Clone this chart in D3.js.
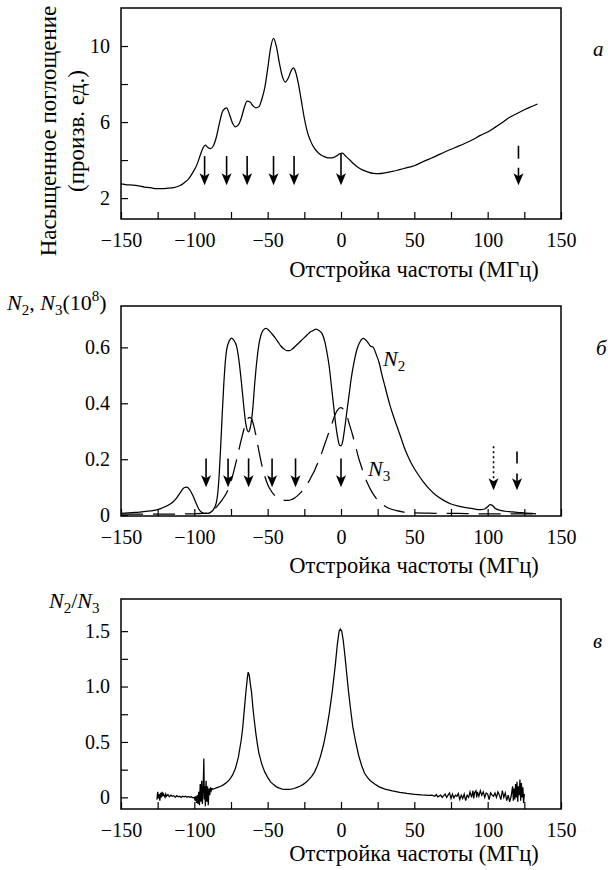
<!DOCTYPE html>
<meta charset="utf-8">
<style>
body { margin: 0; background: #fff; }
svg text { font-family: "Liberation Serif", "Times New Roman", serif; fill: #000; }
.axis text { font-size: 20px; }
.axis path { display: none; }
.axis line { stroke: #000; stroke-width: 1.2px; }
.frame { fill: none; stroke: #000; stroke-width: 1.5px; }
.curve { fill: none; stroke: #000; stroke-width: 1.25px; }
</style>
<body>
<svg width="608" height="870"></svg>
<script src="https://cdn.jsdelivr.net/npm/d3@7"></script>
<script>

// --- panel a: saturated absorption
var absX = [-150,-146,-142,-138,-134,-130,-126,-122,-118,-114,-110,-107,-104,-101,-98,-96,-94,-92.5,-91,-89,-87,-85,-83,-80.5,-78,-76,-74,-72,-70,-68,-66,-64,-62,-60,-58,-56,-54,-52,-50,-48,-46,-44,-42,-40,-38,-36,-34,-32.5,-31,-29,-27,-25,-23,-21,-18,-15,-12,-9,-6,-3,-1,1,3,6,9,12,15,18,22,26,30,35,40,45,50,55,60,65,70,75,80,85,90,95,100,105,110,115,120,125,130,134];
var absY = [2.75,2.7,2.68,2.64,2.58,2.55,2.5,2.5,2.52,2.55,2.65,2.8,3.0,3.35,3.8,4.25,4.65,4.78,4.68,4.6,4.75,5.2,5.9,6.6,6.75,6.4,5.95,5.75,5.85,6.2,6.75,7.1,7.05,6.85,6.75,6.8,7.2,7.8,8.8,9.9,10.4,9.95,9.1,8.4,8.1,8.3,8.7,8.85,8.65,8.0,7.1,6.2,5.5,5.05,4.6,4.35,4.2,4.12,4.12,4.22,4.33,4.36,4.22,4.0,3.78,3.6,3.47,3.38,3.3,3.29,3.33,3.4,3.5,3.6,3.7,3.88,4.05,4.22,4.4,4.57,4.73,4.9,5.08,5.3,5.48,5.72,5.98,6.25,6.45,6.65,6.82,6.95];
var absArrows = [-93,-78,-64,-46,-32,0];
var absDashedArrows = [121];

// --- panel b: populations N2, N3
var n2X = [-150,-140,-130,-125,-120,-115,-112,-109,-107,-105,-103,-101,-99,-97,-95,-93,-91,-89,-87,-85,-84,-83,-82,-81,-80,-79,-78,-76,-74.5,-73,-71,-69.5,-68,-66.5,-65,-64,-63,-62,-61,-60,-59,-58,-57,-56,-54.5,-53,-51,-49,-47,-45,-43,-41,-39,-37,-35,-33,-31,-29,-27,-25,-23,-21,-19,-17,-15,-13,-11,-9.5,-8,-6.5,-5,-3.5,-2,-1,0,1,2.5,4,5.5,7,9,11,13,15,16.5,18,20,22,24,26,28,30,33,36,40,44,48,52,56,60,65,70,75,80,85,90,95,98,100,101.5,103,105,108,112,116,120,125,130,133];
var n2Y = [0.006,0.01,0.015,0.02,0.03,0.045,0.062,0.085,0.098,0.1,0.09,0.07,0.045,0.022,0.01,0.006,0.006,0.01,0.02,0.045,0.08,0.15,0.25,0.36,0.46,0.54,0.59,0.625,0.633,0.625,0.6,0.55,0.48,0.4,0.33,0.305,0.298,0.31,0.34,0.39,0.46,0.52,0.57,0.61,0.645,0.662,0.668,0.66,0.648,0.635,0.62,0.605,0.595,0.588,0.588,0.595,0.605,0.615,0.625,0.635,0.645,0.655,0.66,0.665,0.66,0.65,0.62,0.58,0.53,0.46,0.39,0.32,0.27,0.25,0.248,0.26,0.31,0.37,0.43,0.49,0.55,0.595,0.62,0.632,0.628,0.62,0.605,0.6,0.575,0.545,0.5,0.46,0.4,0.35,0.29,0.23,0.185,0.15,0.12,0.095,0.07,0.053,0.04,0.032,0.027,0.023,0.02,0.022,0.03,0.038,0.036,0.025,0.018,0.014,0.012,0.01,0.008,0.006,0.005];
var n3X = [-150,-130,-110,-100,-95,-90,-87,-84,-81,-78,-75,-72,-70,-68,-66,-64,-62.5,-61,-59.5,-58,-56,-54,-52,-50,-48,-46,-44,-42,-40,-38,-36,-34,-32,-30,-28,-26,-24,-22,-20,-18,-16,-14,-12,-10,-8,-6,-4,-2,-1,0,1,2,4,6,8,10,12,14,16,18,20,22,24,27,30,34,38,42,46,50,60,70,80,90,100,110,120,133];
var n3Y = [0.004,0.004,0.004,0.005,0.006,0.009,0.018,0.035,0.055,0.08,0.12,0.18,0.225,0.27,0.31,0.34,0.35,0.345,0.32,0.285,0.23,0.18,0.14,0.11,0.09,0.075,0.065,0.058,0.055,0.053,0.053,0.055,0.06,0.068,0.078,0.09,0.105,0.12,0.14,0.16,0.185,0.21,0.24,0.27,0.3,0.33,0.36,0.378,0.383,0.385,0.382,0.375,0.355,0.32,0.285,0.245,0.205,0.172,0.14,0.115,0.093,0.075,0.06,0.043,0.032,0.022,0.016,0.012,0.01,0.008,0.007,0.006,0.006,0.005,0.005,0.005,0.005,0.005];
var popArrows = [-92,-77,-63,-47,-31,0];
var popDottedArrows = [104];
var popDashedArrows = [120];

// --- panel c: ratio N2/N3
var ratioX = [-125.5,-125,-124.5,-124,-123.5,-123,-122.5,-122,-121.5,-121,-120,-119.5,-119,-118,-117,-116,-115,-114,-113,-112,-111,-110,-109,-108,-107,-106,-105,-104,-103,-102,-101,-100,-99.5,-99,-98.5,-98,-97.5,-97,-96.5,-96,-95.5,-95,-94.5,-94,-93.5,-93.2,-92.8,-92.5,-92,-91.5,-91,-90.5,-90,-89.5,-89,-88.5,-88,-87,-86,-85,-84,-82,-80,-78,-76,-74,-72,-70,-68,-67,-66,-65,-64,-63.3,-62.5,-62,-61,-60,-59,-58,-57,-56,-54,-52,-50,-48,-46,-44,-42,-40,-38,-36,-34,-32,-30,-28,-26,-24,-22,-20,-18,-16,-14,-12,-10,-8,-6,-4,-2.5,-1.3,-0.5,0.5,1.5,2.5,3.5,5,6.5,8,10,12,14,16,18,20,23,26,30,35,40,45,50,55,60,62,64,65,66,68,69,70,71,72,73,74,75,76,77,78,79,80,81,82,83,84,85,86,87,88,89,90,90.5,91,92,92.5,93,94,95,96,97,98,99,100,101,102,103,104,105,106,107,108,109,110,111,112,113,114,115,116,117,117.5,118,118.5,119,119.5,120,120.5,121,121.5,122,122.5,123,123.5,124,124.5,125];
var ratioY = [-0.02,0.05,-0.01,0.03,-0.03,0.04,0.0,0.05,0.01,0.03,0.0,0.03,0.01,0.025,0.005,0.02,0.01,0.015,0.0,0.015,0.005,0.01,0.0,0.01,0.005,0.01,0.0,0.008,0.0,0.005,-0.005,0.0,-0.03,0.01,-0.05,0.02,-0.06,0.05,-0.07,0.12,-0.04,0.15,-0.06,0.08,0.35,-0.02,0.1,-0.08,0.15,-0.04,0.1,-0.07,0.08,0.02,0.09,0.06,0.08,0.075,0.08,0.085,0.09,0.1,0.115,0.135,0.16,0.2,0.26,0.36,0.52,0.63,0.78,0.93,1.06,1.13,1.1,1.04,0.95,0.8,0.68,0.57,0.48,0.4,0.3,0.23,0.18,0.14,0.115,0.095,0.083,0.075,0.072,0.072,0.075,0.08,0.09,0.1,0.115,0.135,0.16,0.19,0.23,0.29,0.37,0.47,0.6,0.76,0.95,1.18,1.38,1.5,1.52,1.5,1.42,1.3,1.17,0.97,0.8,0.64,0.5,0.38,0.29,0.22,0.18,0.15,0.12,0.095,0.075,0.058,0.045,0.035,0.028,0.022,0.018,0.02,0.01,0.025,0.005,0.02,0.0,0.015,0.03,0.0,0.02,0.04,-0.01,0.03,-0.005,0.02,0.01,0.035,-0.02,0.02,-0.01,0.03,-0.03,0.02,0.0,0.05,0.0,0.06,-0.01,0.04,0.06,0.0,0.05,0.01,0.06,0.02,0.05,0.0,0.04,0.03,-0.02,0.04,0.02,0.01,0.04,0.0,0.05,0.02,-0.02,0.06,0.0,0.04,-0.03,0.02,-0.04,0.01,0.1,-0.03,0.08,-0.02,0.12,0.0,0.14,-0.04,0.1,0.02,0.16,-0.03,0.13,0.0,0.09,-0.05,0.03];

var xTicks = d3.range(-150, 151, 25);
var xLabel = "Отстройка частоты (МГц)";

var svg = d3.select("svg");
var left = 121, right = 561;

function panel(top, bottom, yDomain, yTicks, yFmt, titleGap) {
  var g = svg.append("g");
  var x = d3.scaleLinear().domain([-150, 150]).range([left, right]);
  var y = d3.scaleLinear().domain(yDomain).range([bottom, top]);
  g.append("g").attr("class", "axis")
    .attr("transform", "translate(0," + bottom + ")")
    .call(d3.axisBottom(x).tickValues(xTicks).tickSize(-7).tickPadding(14)
      .tickFormat(function(d){ return d % 50 === 0 ? d3.format("")(d) : ""; }))
    .attr("font-family", null).attr("font-size", null);
  g.append("g").attr("class", "axis")
    .attr("transform", "translate(" + left + ",0)")
    .call(d3.axisLeft(y).tickValues(yTicks).tickSize(-7).tickPadding(11).tickFormat(yFmt))
    .attr("font-family", null).attr("font-size", null);
  g.append("rect").attr("class", "frame")
    .attr("x", left).attr("y", top).attr("width", right - left).attr("height", bottom - top);
  g.append("text").attr("x", 414).attr("y", bottom + titleGap)
    .attr("text-anchor", "middle").style("font-size", "22.5px").text(xLabel);
  return {g: g, x: x, y: y};
}

function curve(p, xs, ys, interp, dash) {
  var line = d3.line().curve(interp)
    .x(function(d, i){ return p.x(xs[i]); })
    .y(function(d){ return p.y(d); });
  p.g.append("path").attr("class", "curve")
    .attr("d", line(ys))
    .style("stroke-dasharray", dash || null);
}

function arrows(p, xs, y0, y1, dash) {
  xs.forEach(function(v) {
    var px = p.x(v), top = p.y(y0), tip = p.y(y1);
    p.g.append("line").attr("x1", px).attr("x2", px).attr("y1", top).attr("y2", tip - 8)
      .attr("stroke", "#000").attr("stroke-width", 1.6)
      .style("stroke-dasharray", dash || null);
    p.g.append("path")
      .attr("d", "M0,0L-5,-12L0,-9L5,-12Z")
      .attr("transform", "translate(" + px + "," + tip + ")")
      .attr("fill", "#000");
  });
}

function tag(t, x, y) {
  svg.append("text").attr("x", x).attr("y", y)
    .style("font-size", "21px").style("font-style", "italic").text(t);
}

function symbol(x, y, parts) {
  var t = svg.append("text").attr("x", x).attr("y", y).style("font-size", "22px");
  parts.forEach(function(s) {
    var sp = t.append("tspan").text(s[0]);
    if (s[1] === "i") sp.style("font-style", "italic");
    if (s[1] === "sub") sp.attr("dy", 5).style("font-size", "15px");
    if (s[1] === "sup") sp.attr("dy", -9).style("font-size", "15px");
    if (s[2]) sp.attr("dy", s[2]);
  });
}

// panel a
var pa = panel(8, 219, [0.9, 12], [2, 4, 6, 8, 10],
  function(d){ return d % 4 === 2 ? d : ""; }, 58);
curve(pa, absX, absY, d3.curveMonotoneX);
arrows(pa, absArrows.filter(function(v){ return v !== 0; }), 4.21, 2.68);
arrows(pa, [0], 4.37, 2.68);
arrows(pa, absDashedArrows, 4.75, 2.68, "13,9");
var yt = svg.append("text").attr("transform", "translate(56,131) rotate(-90)")
  .attr("text-anchor", "middle").style("font-size", "23px");
yt.append("tspan").attr("x", 0).attr("y", 0).text("Насыщенное поглощение");
yt.append("tspan").attr("x", 0).attr("y", 28).text("(произв. ед.)");
tag("a", 593, 56);

// panel b
var pb = panel(306, 516, [-0.003, 0.748], [0, 0.2, 0.4, 0.6], d3.format(""), 57);
curve(pb, n2X, n2Y, d3.curveMonotoneX);
curve(pb, n3X, n3Y, d3.curveMonotoneX, "22,10");
arrows(pb, popArrows, 0.203, 0.1);
arrows(pb, popDottedArrows, 0.246, 0.089, "2,3");
arrows(pb, popDashedArrows, 0.228, 0.089, "12,10");
symbol(7, 310, [["N", "i"], ["2", "sub"], [", ", "", -5], ["N", "i"], ["3", "sub"], ["(10", "", -5], ["8", "sup"], [")", "", 9]]);
symbol(383, 366, [["N", "i"], ["2", "sub"]]);
symbol(368, 476, [["N", "i"], ["3", "sub"]]);
tag("б", 596, 355);

// panel c
var pc = panel(599, 809, [-0.105, 1.79], [0, 0.25, 0.5, 0.75, 1, 1.25, 1.5],
  function(d){ return d === 0 ? "0" : (d * 2) % 1 === 0 ? d3.format(".1f")(d) : ""; }, 52);
curve(pc, ratioX, ratioY, d3.curveLinear);
symbol(49, 608, [["N", "i"], ["2", "sub"], ["/", "", -5], ["N", "i"], ["3", "sub"]]);
tag("в", 593, 648);

</script>
</body>
